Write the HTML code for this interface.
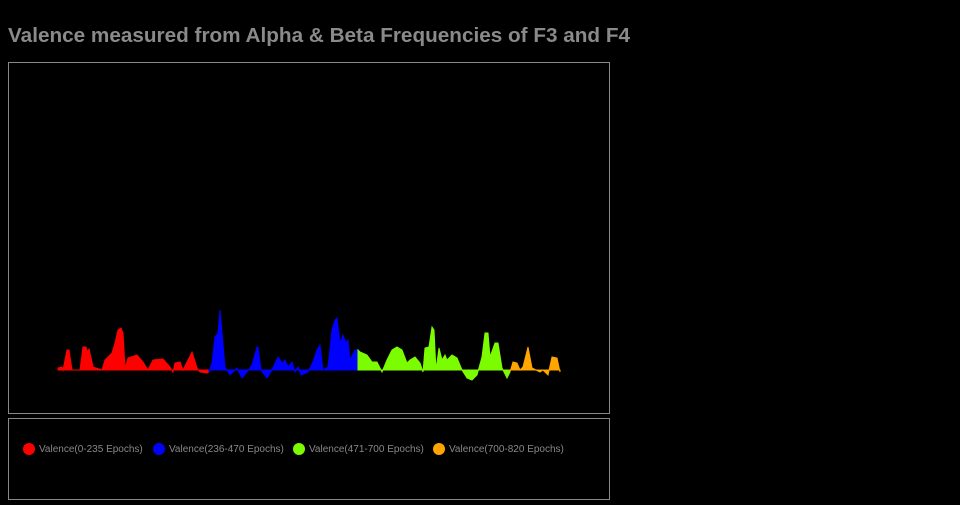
<!DOCTYPE html>
<html><head><style>
body{margin:0;background:#000;width:960px;height:500px;overflow:hidden;font-family:"Liberation Sans",sans-serif}
</style></head><body>
<svg width="960" height="500" xmlns="http://www.w3.org/2000/svg">
<text x="8" y="42" fill="#8a8a8a" font-size="20" font-weight="bold" textLength="622" lengthAdjust="spacingAndGlyphs" font-family="Liberation Sans, sans-serif">Valence measured from Alpha &amp; Beta Frequencies of F3 and F4</text>
<rect x="8.5" y="62.5" width="601" height="351" fill="none" stroke="#888" stroke-width="1"/>
<rect x="8.5" y="418.5" width="601" height="81" fill="none" stroke="#888" stroke-width="1"/>
<g id="g"></g>
<g font-size="10" fill="#888" font-family="Liberation Sans, sans-serif">
<circle cx="29" cy="449" r="6" fill="#ff0000"/><text x="39" y="452">Valence(0-235 Epochs)</text>
<circle cx="159" cy="449" r="6" fill="#0000ff"/><text x="169" y="452">Valence(236-470 Epochs)</text>
<circle cx="299" cy="449" r="6" fill="#7cfc00"/><text x="309" y="452">Valence(471-700 Epochs)</text>
<circle cx="439" cy="449" r="6" fill="#ffa500"/><text x="449" y="452">Valence(700-820 Epochs)</text>
</g>
</svg>
<script>
var B=370;
var S=[["#ff0000",[[58,368],[62,367],[63,370],[67,350],[69,350],[72,370],[80,370],[83,347],[86,347],[87,352],[89,349],[92,362],[93,367],[102,370],[105,360],[112,353],[115,343],[118,330],[121,328],[123,333],[125,368],[128,358],[137,355],[143,362],[148,370],[153,360],[163,359],[170,367],[173,372],[175,363],[180,362],[183,370],[187,362],[192,352],[194,358],[197,368],[200,372],[207,373],[209,372]]],
["#0000ff",[[209,372],[212,363],[215,337],[218,333],[220,310],[222,333],[225,367],[230,375],[237,368],[242,378],[247,372],[252,365],[257,347],[258,347],[261,370],[267,378],[272,370],[278,357],[282,363],[285,360],[288,367],[292,362],[295,372],[298,367],[301,375],[308,372],[313,362],[317,350],[320,345],[323,370],[328,367],[332,330],[335,320],[337,318],[340,343],[343,335],[346,343],[348,340],[350,360],[355,350],[358,350]]],
["#7cfc00",[[358,350],[360,352],[367,355],[372,362],[377,362],[382,372],[387,360],[392,350],[397,347],[402,350],[407,363],[410,360],[415,357],[420,363],[423,372],[425,348],[429,347],[432,327],[434,330],[436,370],[439,348],[442,360],[445,355],[447,360],[452,355],[457,358],[462,370],[467,378],[472,380],[477,375],[482,357],[485,333],[488,333],[490,357],[495,343],[498,343],[502,368],[507,378],[510,372]]],
["#ffa500",[[510,372],[513,362],[517,363],[520,370],[523,367],[528,347],[532,368],[540,372],[543,370],[548,375],[552,357],[557,358],[560,372]]]];
var h="";S.forEach(function(s){var p=s[1];var d="M"+p[0][0]+","+B;p.forEach(function(q){d+="L"+q[0]+","+q[1]});d+="L"+p[p.length-1][0]+","+B+"Z";h+='<path d="'+d+'" fill="'+s[0]+'" stroke="'+s[0]+'" stroke-width="1"/>';});
document.getElementById("g").innerHTML=h;
</script>
</body></html>
